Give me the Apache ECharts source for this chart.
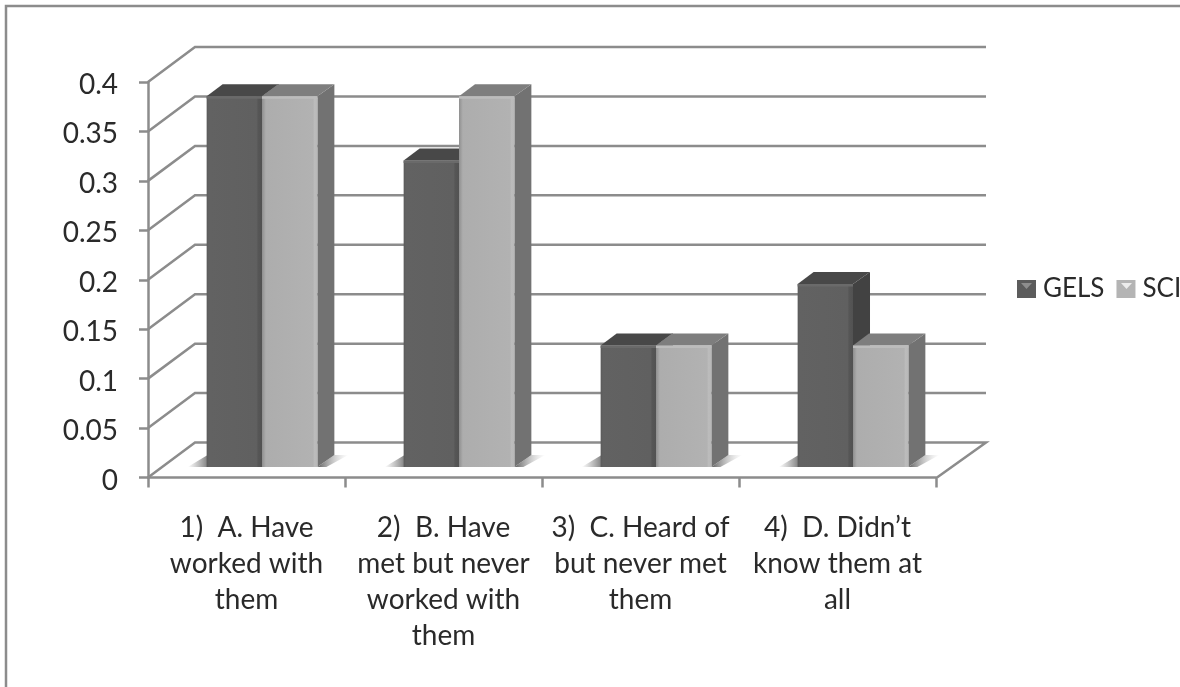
<!DOCTYPE html>
<html>
<head>
<meta charset="utf-8">
<title>GELS and SCI</title>
<style>html,body{margin:0;padding:0;background:#fff}#chart{width:1180px;height:687px}</style>
<script src="https://cdn.jsdelivr.net/npm/echarts@6/dist/echarts.min.js"></script>
</head>
<body>
<div id="chart"></div>
<script>
// Survey answers, shown as shares per response
const categories = [
  '1)  A. Have\nworked with\nthem',
  '2)  B. Have\nmet but never\nworked with\nthem',
  '3)  C. Heard of\nbut never met\nthem',
  '4)  D. Didn\u2019t\nknow them at\nall'
];
const gels = [0.375, 0.31, 0.123, 0.185];
const sci = [0.375, 0.375, 0.123, 0.123];
const yTicks = [0, 0.05, 0.1, 0.15, 0.2, 0.25, 0.3, 0.35, 0.4];

// Oblique projection of the chart box and of each bar
const wallDx = 47, wallDy = 35, wallRight = 986;
const barDx = 17, barDy = 12, floorLift = 10.5;
const lineColor = '#8c8c8c';

function hGrad(stops) {
  return new echarts.graphic.LinearGradient(0, 0, 1, 0,
    stops.map(s => ({offset: s[0], color: s[1]})));
}

// Draws one column as front, top and side faces plus its floor shadow
function columnRenderer(seriesIndex, look) {
  return function (params, api) {
    const cat = api.value(0), val = api.value(1);
    const catW = api.size([1, 0])[0];
    const w = catW * 0.281;
    const base = api.coord([cat, 0]);
    const head = api.coord([cat, val]);
    const x = base[0] + catW * 0.0787 + (seriesIndex - 1) * w;
    const b = base[1] - floorLift, t = head[1] - floorLift;
    const r = x + w;
    const kids = [];
    if (seriesIndex === 0) {
      kids.push({type: 'polygon', shape: {points: [[x + 1, b], [x + 1, b - 12], [x - 19, b]]},
        style: {fill: hGrad([[0, 'rgba(150,150,150,0)'], [1, '#808080']])}});
    } else {
      kids.push({type: 'polygon', shape: {points: [[r, b], [r + barDx, b - barDy], [r + 31, b - barDy], [r + 9, b]]},
        style: {fill: hGrad([[0, '#606060'], [1, 'rgba(190,190,190,0)']])}});
    }
    kids.push({type: 'polygon', shape: {points: [[r, t], [r + barDx, t - barDy], [r + barDx, b - barDy], [r, b]]},
      style: {fill: look.side}});
    kids.push({type: 'polygon', shape: {points: [[x, t], [x + barDx - 1, t - barDy], [r + barDx, t - barDy], [r, t]]},
      style: {fill: look.top}});
    kids.push({type: 'rect', shape: {x: x, y: t, width: w, height: b - t},
      style: {fill: hGrad(look.front)}});
    kids.push({type: 'rect', shape: {x: x, y: t, width: w, height: 2.5},
      style: {fill: look.rim}});
    return {type: 'group', children: kids};
  };
}

const gelsLook = {
  side: '#424242', top: '#484848', rim: '#6a6a6a',
  front: [[0, '#5a5a5a'], [0.04, '#626262'], [0.9, '#606060'], [0.93, '#565656'], [1, '#525252']]
};
const sciLook = {
  side: '#727272', top: '#7e7e7e', rim: '#bcbcbc',
  front: [[0, '#8f8f8f'], [0.07, '#adadad'], [0.92, '#b2b2b2'], [0.95, '#bcbcbc'], [1, '#b8b8b8']]
};

// Back wall rules with their slanted return to the value axis
function wallRenderer(params, api) {
  const v = api.value(0);
  const p = api.coord([0, v]);
  const left = p[0] - api.size([1, 0])[0] / 2;
  const pts = [[left, p[1]], [left + wallDx, p[1] - wallDy], [wallRight, p[1] - wallDy]];
  if (v === 0) pts.push([wallRight - wallDx - 2, p[1]]);
  return {type: 'polyline', shape: {points: pts},
    style: {stroke: lineColor, lineWidth: 2.5, fill: 'none'}};
}

const labelFont = 'Lato, "Open Sans", sans-serif';
const chart = echarts.init(document.getElementById('chart'), null, {renderer: 'canvas'});
chart.setOption({
  animation: false,
  backgroundColor: '#ffffff',
  grid: {left: 148, top: 82, width: 788, height: 395.5, containLabel: false},
  xAxis: {
    type: 'category',
    data: categories,
    axisLine: {lineStyle: {color: lineColor, width: 2.5}},
    axisTick: {show: true, length: 10, lineStyle: {color: lineColor, width: 2.5}},
    axisLabel: {interval: 0, margin: 32, color: '#2a2a2a', fontFamily: labelFont, fontSize: 28, lineHeight: 36, hideOverlap: false}
  },
  yAxis: {
    type: 'value', min: 0, max: 0.4, interval: 0.05,
    splitLine: {show: false},
    axisLine: {show: true, lineStyle: {color: lineColor, width: 2.5}},
    axisTick: {show: true, length: 9, lineStyle: {color: lineColor, width: 2.5}},
    axisLabel: {margin: 30, color: '#2a2a2a', fontFamily: labelFont, fontSize: 28, verticalAlign: 'top', lineHeight: 6}
  },
  legend: {
    left: 1017, top: 276, width: 300, padding: 0, itemGap: 12, itemWidth: 19, itemHeight: 18,
    textStyle: {fontFamily: labelFont, fontSize: 26, color: '#2a2a2a', padding: [0, 0, 0, 2]},
    data: [
      {name: 'GELS', icon: 'rect', itemStyle: {color: '#5c5c5c'}},
      {name: 'SCI', icon: 'rect', itemStyle: {color: '#b4b4b4'}}
    ]
  },
  series: [
    {type: 'custom', silent: true, coordinateSystem: 'cartesian2d', z: 1,
      data: yTicks.map(v => [v]), encode: {y: 0}, renderItem: wallRenderer},
    {type: 'custom', name: 'GELS', coordinateSystem: 'cartesian2d', z: 3,
      data: gels.map((v, i) => [i, v]), encode: {x: 0, y: 1},
      itemStyle: {color: '#5c5c5c'}, renderItem: columnRenderer(0, gelsLook)},
    {type: 'custom', name: 'SCI', coordinateSystem: 'cartesian2d', z: 4,
      data: sci.map((v, i) => [i, v]), encode: {x: 0, y: 1},
      itemStyle: {color: '#b4b4b4'}, renderItem: columnRenderer(1, sciLook)}
  ],
  graphic: [
    // Outer frame of the figure
    {type: 'polyline', silent: true, z: 0,
      shape: {points: [[6, 687], [6, 6], [1180, 6]]},
      style: {stroke: lineColor, lineWidth: 2.5, fill: 'none'}},
    // Bevel notches on the legend swatches
    {type: 'polygon', silent: true, z: 10, shape: {points: [[1021, 283], [1032, 283], [1026.5, 289]]}, style: {fill: '#8e8e8e'}},
    {type: 'polygon', silent: true, z: 10, shape: {points: [[1121, 283], [1132, 283], [1126.5, 289]]}, style: {fill: '#ececec'}}
  ]
});
</script>
</body>
</html>
